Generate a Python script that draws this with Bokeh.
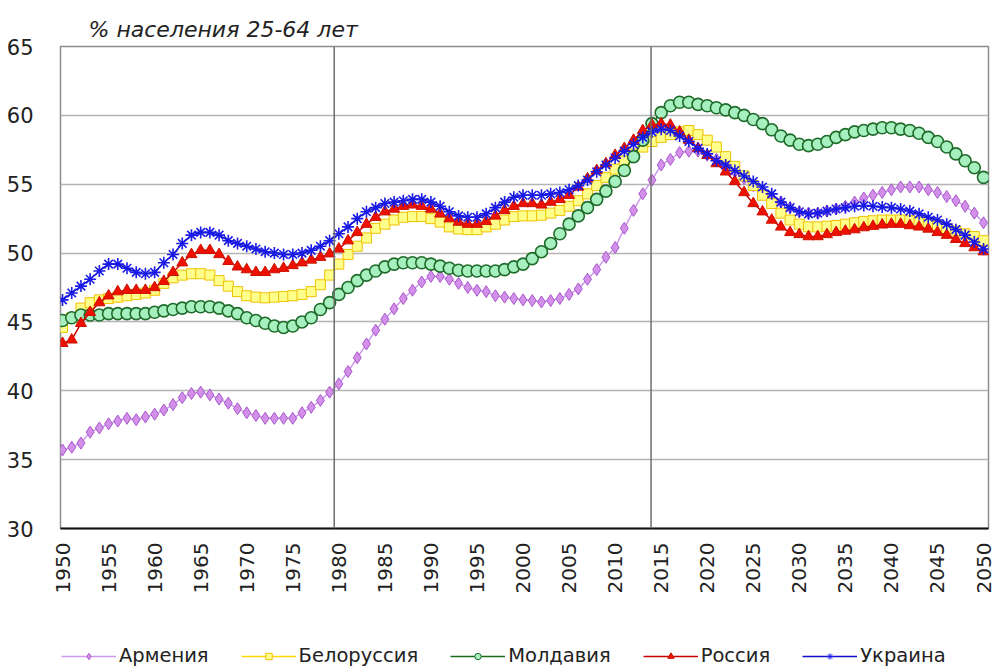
import math
from bokeh.plotting import figure
from bokeh.layouts import column
from bokeh.models import (Range1d, FixedTicker, Span, Legend, LegendItem)
from bokeh.embed import file_html
from bokeh.resources import INLINE

years = list(range(1950, 2051))

armenia = [
    35.7, 35.9, 36.2, 37.0, 37.3, 37.6, 37.8, 38.0, 37.9, 38.1,
    38.3, 38.6, 39.0, 39.5, 39.8, 39.9, 39.7, 39.4, 39.1, 38.7,
    38.4, 38.2, 38.0, 38.0, 38.0, 38.0, 38.4, 38.8, 39.3, 39.9,
    40.5, 41.4, 42.4, 43.4, 44.4, 45.2, 45.95, 46.7, 47.3, 47.9,
    48.3, 48.3, 48.1, 47.8, 47.5, 47.3, 47.2, 46.9, 46.8, 46.7,
    46.6, 46.55, 46.45, 46.55, 46.7, 47.0, 47.4, 48.1, 48.8, 49.7,
    50.4, 51.8, 53.1, 54.3, 55.3, 56.4, 56.8, 57.3, 57.4, 57.4,
    57.1, 56.8, 56.4, 55.9, 55.4, 54.9, 54.4, 54.0, 53.7, 53.3,
    53.0, 52.9, 52.9, 53.05, 53.2, 53.4, 53.7, 54.0, 54.2, 54.4,
    54.6, 54.8, 54.8, 54.8, 54.6, 54.4, 54.1, 53.8, 53.4, 52.9, 52.2,
]
belarus = [
    44.6, 45.3, 46.0, 46.4, 46.6, 46.7, 46.8, 46.9, 47.0, 47.1,
    47.3, 47.8, 48.2, 48.4, 48.5, 48.5, 48.4, 48.0, 47.6, 47.2,
    46.9, 46.8, 46.75, 46.8, 46.85, 46.9, 47.0, 47.2, 47.7, 48.4,
    49.2, 49.9, 50.5, 51.1, 51.8, 52.1, 52.4, 52.6, 52.65, 52.65,
    52.5, 52.25, 51.9, 51.75, 51.7, 51.7, 51.9, 52.1, 52.4, 52.65,
    52.7, 52.7, 52.75, 52.9, 53.1, 53.4, 53.8, 54.3, 54.9, 55.5,
    56.1, 56.7, 57.2, 57.7, 58.1, 58.4, 58.6, 58.8, 58.9, 58.6,
    58.2, 57.7, 57.0, 56.3, 55.6, 54.9, 54.2, 53.6, 52.9, 52.4,
    52.1, 51.9, 51.9, 51.95, 52.0, 52.1, 52.2, 52.3, 52.35, 52.4,
    52.4, 52.4, 52.35, 52.25, 52.1, 51.95, 51.8, 51.6, 51.4, 51.2, 50.9,
]
moldova = [
    45.1, 45.3, 45.5, 45.5, 45.5, 45.6, 45.6, 45.6, 45.6, 45.6,
    45.7, 45.8, 45.9, 46.0, 46.1, 46.1, 46.1, 46.0, 45.8, 45.6,
    45.3, 45.1, 44.9, 44.7, 44.6, 44.7, 45.0, 45.3, 45.9, 46.4,
    47.0, 47.5, 48.0, 48.4, 48.7, 49.0, 49.2, 49.3, 49.3, 49.3,
    49.2, 49.05, 48.9, 48.75, 48.7, 48.7, 48.7, 48.7, 48.8, 49.0,
    49.2, 49.6, 50.1, 50.7, 51.4, 52.1, 52.7, 53.3, 53.9, 54.5,
    55.2, 56.0, 57.0, 58.2, 59.4, 60.2, 60.7, 60.95, 60.95, 60.8,
    60.7, 60.55, 60.4, 60.2, 60.0, 59.7, 59.4, 58.95, 58.5, 58.2,
    57.9, 57.8, 57.9, 58.1, 58.4, 58.6, 58.8, 58.9, 59.0, 59.1,
    59.1, 59.0, 58.9, 58.7, 58.4, 58.1, 57.7, 57.2, 56.7, 56.2, 55.5,
]
russia = [
    43.45, 43.7, 44.9, 45.7, 46.4, 46.9, 47.2, 47.3, 47.3, 47.3,
    47.5, 47.95, 48.6, 49.3, 49.9, 50.2, 50.2, 49.9, 49.4, 49.0,
    48.8, 48.6, 48.6, 48.8, 48.9, 49.1, 49.3, 49.5, 49.7, 49.95,
    50.3, 50.9, 51.5, 52.1, 52.6, 53.0, 53.2, 53.4, 53.5, 53.4,
    53.2, 52.85, 52.5, 52.25, 52.1, 52.1, 52.3, 52.7, 53.1, 53.4,
    53.6, 53.6, 53.5, 53.7, 53.9, 54.2, 54.8, 55.4, 56.0, 56.5,
    57.1, 57.6, 58.2, 58.9, 59.3, 59.4, 59.3, 58.8, 58.2, 57.6,
    57.1, 56.5, 55.9, 55.2, 54.4, 53.6, 53.0, 52.4, 51.9, 51.5,
    51.35, 51.2, 51.2, 51.35, 51.5, 51.6, 51.7, 51.85, 51.95, 52.05,
    52.1, 52.1, 52.0, 51.9, 51.75, 51.5, 51.3, 51.0, 50.7, 50.4, 50.1,
]
ukraine = [
    46.6, 47.1, 47.6, 48.1, 48.7, 49.2, 49.2, 48.9, 48.6, 48.5,
    48.6, 49.3, 49.9, 50.7, 51.3, 51.5, 51.5, 51.3, 50.9, 50.7,
    50.5, 50.3, 50.1, 50.0, 49.9, 49.9, 50.0, 50.2, 50.5, 50.9,
    51.4, 51.9, 52.5, 53.0, 53.3, 53.6, 53.7, 53.8, 53.9, 53.9,
    53.7, 53.4, 53.0, 52.7, 52.6, 52.6, 52.85, 53.3, 53.7, 54.05,
    54.2, 54.2, 54.2, 54.3, 54.4, 54.6, 54.9, 55.3, 55.9, 56.4,
    56.9, 57.4, 57.9, 58.4, 58.8, 59.0, 58.9, 58.5, 58.1, 57.6,
    57.2, 56.7, 56.4, 56.0, 55.6, 55.2, 54.8, 54.3, 53.7, 53.3,
    53.0, 52.85, 52.9, 53.05, 53.2, 53.3, 53.4, 53.45, 53.4, 53.35,
    53.3, 53.2, 53.05, 52.85, 52.6, 52.4, 52.1, 51.7, 51.3, 50.8, 50.3,
]

series_names = ["Армения", "Белоруссия", "Молдавия", "Россия", "Украина"]
x_tick_years = list(range(1950, 2051, 5))
y_ticks = [30, 35, 40, 45, 50, 55, 60, 65]
marker_lines = [1979.5, 2013.9]
title_text = "% населения 25-64 лет"

FONT = "DejaVu Sans"
TXT = "#222222"

p = figure(width=996, height=620, output_backend="svg", toolbar_location=None,
           x_range=Range1d(1949.78, 2050.54), y_range=Range1d(30, 65),
           min_border_left=60, min_border_right=8, min_border_top=46,
           min_border_bottom=92,
           background_fill_color="white", border_fill_color="white")

p.title.text = title_text
p.title.text_font = FONT
p.title.text_font_style = "italic"
p.title.text_font_size = "22px"
p.title.text_color = TXT
p.title.offset = 28
p.title.standoff = 10

p.outline_line_color = "#8c8c8c"
p.outline_line_width = 1.5

p.xgrid.grid_line_color = None
p.ygrid.ticker = FixedTicker(ticks=y_ticks)
p.ygrid.grid_line_color = "#b4b4b4"
p.ygrid.grid_line_width = 1.5

p.xaxis.ticker = FixedTicker(ticks=x_tick_years)
p.xaxis.major_label_orientation = math.pi / 2
p.xaxis.major_label_text_font = FONT
p.xaxis.major_label_text_font_size = "20px"
p.xaxis.major_label_text_color = TXT
p.xaxis.major_label_standoff = 8
p.xaxis.major_tick_line_color = None
p.xaxis.minor_tick_line_color = None
p.xaxis.axis_line_color = "#111111"
p.xaxis.axis_line_width = 2

p.yaxis.ticker = FixedTicker(ticks=y_ticks)
p.yaxis.major_label_text_font = FONT
p.yaxis.major_label_text_font_size = "21px"
p.yaxis.major_label_text_color = TXT
p.yaxis.major_label_standoff = 21
p.yaxis.major_tick_line_color = None
p.yaxis.minor_tick_line_color = None
p.yaxis.axis_line_color = None

for yr in marker_lines:
    p.add_layout(Span(location=yr, dimension="height", line_color="#6e6e6e", line_width=1.5))

styles = [
    dict(data=armenia, line="#cc99ee", marker="diamond", fill="#d290e8", edge="#a957cc", size=12, lw=1),
    dict(data=belarus, line="#ffd700", marker="square", fill="#ffff8c", edge="#f0c000", size=10, lw=1),
    dict(data=moldova, line="#1a6b1a", marker="circle", fill="#a6f0bf", edge="#1f6b2a", size=12, lw=1.6),
    dict(data=russia, line="#cc0000", marker="triangle", fill="#ee1100", edge="#cc1100", size=11, lw=1),
    dict(data=ukraine, line="#1010cc", marker="asterisk", fill="#2020e0", edge="#1a1ae6", size=12, lw=1.6),
]

for st in styles:
    p.line(years, st["data"], line_color=st["line"], line_width=1.5)
    p.scatter(years, st["data"], marker=st["marker"], size=st["size"],
              fill_color=st["fill"], line_color=st["edge"], line_width=st["lw"])

# legend strip below the chart (series drawn outside its 0..1 range, so only the legend shows)
lg = figure(width=996, height=48, output_backend="svg", toolbar_location=None,
            x_axis_type=None, y_axis_type=None, x_range=Range1d(0, 1), y_range=Range1d(0, 1),
            min_border=0, outline_line_color=None,
            background_fill_color="white", border_fill_color="white")
lg.xgrid.grid_line_color = None
lg.ygrid.grid_line_color = None
items = []
for name, st in zip(series_names, styles):
    r_line = lg.line(years, st["data"], line_color=st["line"], line_width=1.5)
    r_pts = lg.scatter(years, st["data"], marker=st["marker"], size=8,
                       fill_color=st["fill"], line_color=st["edge"], line_width=1)
    items.append(LegendItem(label=name, renderers=[r_line, r_pts]))

legend = Legend(items=items, orientation="horizontal", location=(1, 1),
                label_text_font=FONT, label_text_font_size="19.5px", label_text_color=TXT,
                glyph_width=55, glyph_height=16, label_standoff=3, spacing=32,
                border_line_color=None, background_fill_alpha=0, padding=2, margin=0)
lg.add_layout(legend, "center")

open("out.html", "w").write(file_html(column(p, lg, spacing=0), INLINE))
